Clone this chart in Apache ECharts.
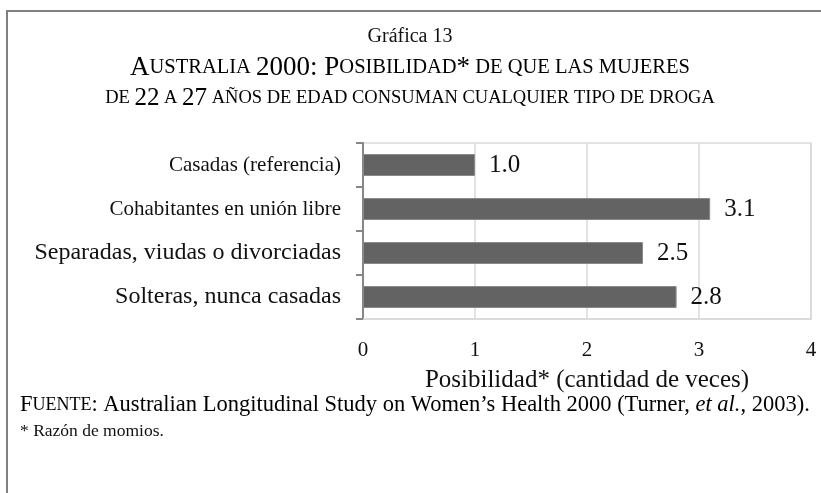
<!DOCTYPE html>
<html>
<head>
<meta charset="utf-8">
<script src="https://cdn.jsdelivr.net/npm/echarts@6/dist/echarts.min.js"></script>
<style>html,body{margin:0;padding:0;background:#fff;}#c{width:821px;height:493px;}</style>
</head>
<body>
<div id="c"></div>
<script>
var categories = ['Casadas (referencia)', 'Cohabitantes en unión libre', 'Separadas, viudas o divorciadas', 'Solteras, nunca casadas'];
var values = [1.0, 3.1, 2.5, 2.8];
var xTicks = [0, 1, 2, 3, 4];

var F = '"Liberation Serif", "DejaVu Serif", serif';
var chart = echarts.init(document.getElementById('c'), null, {renderer: 'canvas'});

var rich = {
  b: {fontFamily: F, fontSize: 27, color: '#111'},
  s: {fontFamily: F, fontSize: 20.5, color: '#111'},
  b2: {fontFamily: F, fontSize: 25, color: '#111'},
  s2: {fontFamily: F, fontSize: 18.5, color: '#111'},
  i: {fontFamily: F, fontSize: 22.5, fontStyle: 'italic', color: '#111'},
  n: {fontFamily: F, fontSize: 22.5, color: '#111'},
  ns: {fontFamily: F, fontSize: 18, color: '#111'},
  c0: {fontFamily: F, fontSize: 21, color: '#111'},
  c1: {fontFamily: F, fontSize: 21, color: '#111'},
  c2: {fontFamily: F, fontSize: 24, color: '#111'},
  c3: {fontFamily: F, fontSize: 24, color: '#111'}
};

chart.setOption({
  animation: false,
  backgroundColor: '#fff',
  grid: {left: 363, right: 10, top: 143, bottom: 174, containLabel: false, show: true, borderColor: '#d9d9d9', borderWidth: 1.5},
  xAxis: {
    type: 'value', min: 0, max: 4, interval: 1,
    name: 'Posibilidad* (cantidad de veces)', nameLocation: 'middle', nameGap: 49,
    nameTextStyle: {fontFamily: F, fontSize: 25, color: '#111'},
    axisLine: {show: true, lineStyle: {color: '#d9d9d9', width: 1.5}},
    axisTick: {show: false},
    splitLine: {show: true, lineStyle: {color: '#d9d9d9', width: 1.5}},
    axisLabel: {fontFamily: F, fontSize: 21, color: '#111', margin: 21,
      formatter: function (v) { return xTicks.indexOf(v) >= 0 ? String(v) : ''; }}
  },
  yAxis: {
    type: 'category', data: categories, inverse: true,
    axisLine: {show: true, lineStyle: {color: '#868686', width: 2}},
    axisTick: {show: true, length: 7, lineStyle: {color: '#868686', width: 2}},
    axisLabel: {margin: 22, rich: rich,
      formatter: function (v, i) { return '{c' + i + '|' + v + '}'; }}
  },
  series: [{
    type: 'bar', data: values, barWidth: '50%',
    itemStyle: {color: '#636363', borderColor: '#8a8a8a', borderWidth: 1},
    label: {show: true, position: 'right', distance: 14, fontFamily: F, fontSize: 25, color: '#111',
      formatter: function (p) { return p.value.toFixed(1); }}
  }],
  graphic: [
    {type: 'rect', shape: {x: 7, y: 11, width: 830, height: 500}, style: {fill: 'none', stroke: '#808080', lineWidth: 2}, silent: true},
    {type: 'text', x: 410, y: 37, style: {text: 'Gráfica 13', font: '20px ' + F, fill: '#111', textAlign: 'center', textVerticalAlign: 'middle'}},
    {type: 'text', x: 410, y: 68, style: {
      text: '{b|A}{s|USTRALIA }{b|2000: P}{s|OSIBILIDAD}{b|*}{s| DE QUE LAS MUJERES}',
      rich: rich, textAlign: 'center', textVerticalAlign: 'middle'}},
    {type: 'text', x: 410, y: 98, style: {
      text: '{s2|DE }{b2|22}{s2| A }{b2|27}{s2| AÑOS DE EDAD CONSUMAN CUALQUIER TIPO DE DROGA}',
      rich: rich, textAlign: 'center', textVerticalAlign: 'middle'}},
    {type: 'text', x: 20, y: 405, style: {
      text: '{n|F}{ns|UENTE}{n|: Australian Longitudinal Study on Women’s Health 2000 (Turner, }{i|et al.}{n|, 2003).}',
      rich: rich, textAlign: 'left', textVerticalAlign: 'middle'}},
    {type: 'text', x: 20, y: 431, style: {text: '* Razón de momios.', font: '17.5px ' + F, fill: '#111', textAlign: 'left', textVerticalAlign: 'middle'}}
  ]
});
</script>
</body>
</html>
